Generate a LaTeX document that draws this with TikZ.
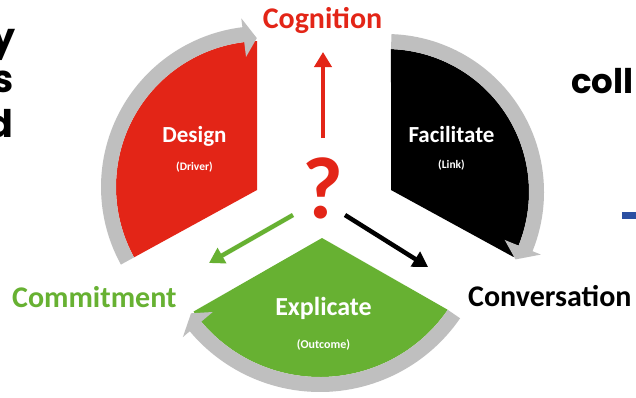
\documentclass[tikz,border=0pt]{standalone}
\usepackage{fontspec}
\setmainfont{Carlito}
\newfontfamily\popfont{Poppins}
\usetikzlibrary{calc,arrows.meta}
\definecolor{cred}{HTML}{E32517}
\definecolor{cgreen}{HTML}{67B132}
\definecolor{cgray}{HTML}{BFBFBF}
\definecolor{cblue}{HTML}{2B4FA2}
% #1 centre, #2 radius, #3 start angle, #4 head-base angle, #5 tip angle
\newcommand{\grayband}[5]{%
  \fill[cgray] ($(#1)+({#3}:{#2})$) -- ($(#1)+({#3}:{#2+15})$)
    arc[start angle=#3, end angle=#4, radius=#2+15]
    -- ($(#1)+({#4}:{#2+24})$) -- ($(#1)+({#5}:{#2+3})$)
    -- ($(#1)+({#4}:{#2-15})$) -- ($(#1)+({#4}:{#2})$)
    arc[start angle=#4, end angle=#3, radius=#2] -- cycle;}
\begin{document}
\begin{tikzpicture}[x=1pt,y=1pt,
  outlabel/.style={font=\bfseries\fontsize{30}{36}\selectfont, inner sep=0pt},
  secname/.style={text=white, font=\bfseries\fontsize{23}{28}\selectfont, inner sep=0pt, anchor=base},
  secsub/.style={text=white, font=\bfseries\fontsize{11.5}{14}\selectfont, inner sep=0pt, anchor=base},
  slidetext/.style={font=\popfont\bfseries\fontsize{38}{44}\selectfont, inner sep=0pt},
  flowarrow/.style={line width=4.5pt, -{Triangle[length=15pt,width=17pt]}}]
\useasboundingbox (0,0) rectangle (636,-397);
\fill[white] (0,0) rectangle (636,-397);

% centres and apexes
\coordinate (Or) at (262,-187);
\coordinate (Ar) at (257,-190);
\coordinate (Ob) at (386,-192);
\coordinate (Ab) at (391,-190);
\coordinate (Og) at (320,-222);
\coordinate (Ag) at (322,-238);

% sectors
\fill[cred] (Ar) -- ($(Or)+(91.9:146)$) arc[start angle=91.9, end angle=208.8, radius=146] -- cycle;
\fill[black] (Ab) -- ($(Ob)+(88:143)$) arc[start angle=88, end angle=-27, radius=143] -- cycle;
\fill[cgreen] (Ag) -- ($(Og)+(325.5:155)$) arc[start angle=325.5, end angle=215.3, radius=155] -- cycle;

% grey circular arrows
\grayband{Or}{146}{208.8}{97}{92}
\grayband{Ob}{143}{88}{-22}{-27.5}
\grayband{Og}{155}{325.5}{220}{215.3}

% sector texts
\node[secname] (design) at (194.5,-142) {Design};
\node[secsub] (driver) at (194.5,-170) {(Driver)};
\node[secname] (facil) at (451.5,-142) {Facilitate};
\node[secsub] (link) at (451.5,-168) {(Link)};
\node[secname, font=\bfseries\fontsize{26}{31}\selectfont] (explic) at (323.5,-315) {Explicate};
\node[secsub, font=\bfseries\fontsize{12}{14}\selectfont] (outcome) at (323.5,-348) {(Outcome)};

% outer labels
\node[outlabel, text=cred, anchor=base] (cog) at (322.5,-28) {Cognition};
\node[outlabel, text=cgreen, anchor=base west] (com) at (12,-307) {Commitment};
\node[outlabel, text=black, anchor=base west] (conv) at (468,-306) {Conversation};

% question mark
\node[text=cred, font=\bfseries\fontsize{88}{92}\selectfont, inner sep=0pt, anchor=base] (q) at (323,-218) {?};

% arrows
\coordinate (qtop) at (323,-138);
\coordinate (cogtip) at (323,-52);
\coordinate (qleft) at (293,-215);
\coordinate (comtip) at (209,-263);
\coordinate (qright) at (345,-215);
\coordinate (convtip) at (428,-267);
\draw[flowarrow, cred] (qtop) -- (cogtip);
\draw[flowarrow, cgreen] (qleft) -- (comtip);
\draw[flowarrow, black] (qright) -- (convtip);

% slide fragments at the edges
\node[slidetext, anchor=base east] (s1) at (16,-50) {y};
\node[slidetext, anchor=base east] (s2) at (14,-92) {s};
\node[slidetext, anchor=base east] (s3) at (14,-137) {d};
\node[font=\popfont\bfseries\fontsize{34}{40}\selectfont, inner sep=0pt, anchor=base west] (coll) at (571,-93) {coll};
\fill[cblue] (622,-212) rectangle (636,-219);
\end{tikzpicture}
\end{document}
